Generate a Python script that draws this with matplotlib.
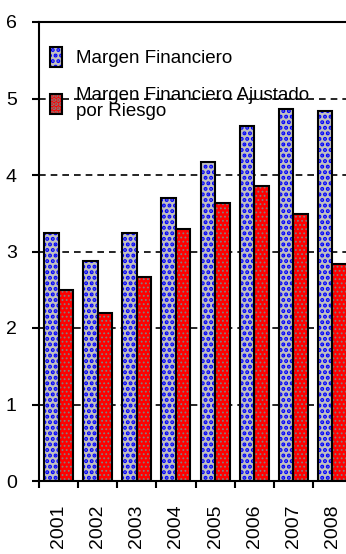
import numpy as np
import matplotlib
matplotlib.use("Agg")
import matplotlib.pyplot as plt
from matplotlib.patches import Patch
from matplotlib.legend_handler import HandlerTuple

# datos
years = ["2001", "2002", "2003", "2004", "2005", "2006", "2007", "2008"]
margen = [3.24, 2.87, 3.24, 3.70, 4.17, 4.64, 4.86, 4.84]
margen_ajustado = [2.50, 2.20, 2.67, 3.29, 3.63, 3.86, 3.49, 2.84]
labels = ["Margen Financiero", "Margen Financiero Ajustado\npor Riesgo"]

plt.rcParams["font.family"] = ["Liberation Sans", "DejaVu Sans"]
plt.rcParams["hatch.linewidth"] = 2.0

fig = plt.figure(figsize=(3.46, 5.54), dpi=100)
ax = fig.add_axes([39/346, 73/554, 313/346, 459/554])

x = np.arange(len(years))
w = 0.37

BLUE_H = "..."
RED_H = "...."


def thin(p):
    if hasattr(p, "set_hatch_linewidth"):
        p.set_hatch_linewidth(0.8)


# relleno con patron (trama azul sobre gris, puntos grises sobre rojo)
b1 = ax.bar(x - w/2, margen, w, color="#c0c0c0", edgecolor="#0000ff",
            linewidth=0, hatch=BLUE_H, zorder=2)
b2 = ax.bar(x + w/2, margen_ajustado, w, color="#ff0000", edgecolor="#808080",
            linewidth=0, hatch=RED_H, zorder=2)
for p in b2:
    thin(p)
# bordes negros
ax.bar(x - w/2, margen, w, fill=False, edgecolor="black", linewidth=1.5, zorder=3)
ax.bar(x + w/2, margen_ajustado, w, fill=False, edgecolor="black", linewidth=1.5, zorder=3)

ax.set_xlim(-0.5, 7.5)
ax.set_ylim(0, 6)
ax.set_yticks(range(0, 7))
ax.yaxis.grid(True, linestyle=(0, (4, 3)), color="black", linewidth=1.2)
ax.set_axisbelow(True)

ax.set_xticks(x)
ax.set_xticklabels(years, rotation=90, fontsize=14)
ax.set_xticks(np.arange(-0.5, 8, 1), minor=True)
ax.tick_params(axis="x", which="major", length=0, pad=17)
ax.tick_params(axis="x", which="minor", length=5, width=1.5, direction="out")
ax.tick_params(axis="y", length=5, width=1.5, pad=11, labelsize=14)

for s in ["left", "bottom", "top"]:
    ax.spines[s].set_linewidth(1.5)
ax.spines["right"].set_visible(False)

# leyenda
h1 = Patch(facecolor="#c0c0c0", edgecolor="#0000ff", linewidth=0, hatch=BLUE_H)
h2 = Patch(facecolor="#ff0000", edgecolor="#808080", linewidth=0, hatch=RED_H)
thin(h2)
o1 = Patch(fill=False, edgecolor="black", linewidth=1.5)
o2 = Patch(fill=False, edgecolor="black", linewidth=1.5)
leg = ax.legend([(h1, o1), (h2, o2)], labels,
                handler_map={tuple: HandlerTuple(ndivide=1, pad=0)},
                loc="upper left", bbox_to_anchor=(0.0, 0.97), frameon=False, fontsize=13.5,
                handlelength=0.65, handleheight=1.25, handletextpad=0.75, labelspacing=1.05,
                borderaxespad=0.2)
for t in leg.get_texts():
    t.set_linespacing(0.95)

fig.savefig("out.png", dpi=100)
